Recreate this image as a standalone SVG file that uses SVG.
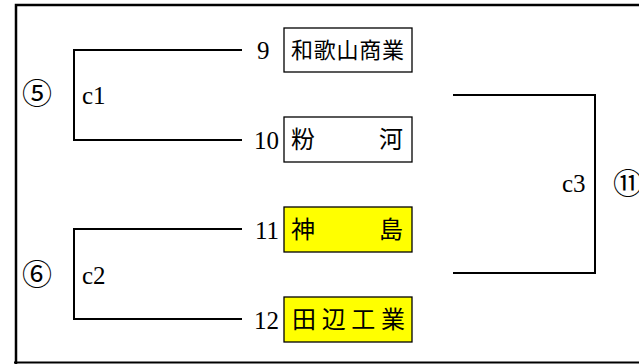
<svg xmlns="http://www.w3.org/2000/svg" width="639" height="364" viewBox="0 0 639 364">
<style>
.ln{fill:none;stroke:#000;stroke-width:2}
.box{stroke:#000;stroke-width:1.3}
.w{fill:#fff}
.y{fill:#ffff00}
.num{font-family:"Liberation Serif","Noto Sans CJK JP",serif;font-size:25px;fill:#000}
.lab{font-family:"Liberation Serif","Noto Sans CJK JP",serif;font-size:25px;fill:#000}
.cir{font-family:"Noto Sans CJK JP","DejaVu Sans",sans-serif;font-size:30px;fill:#000}
.jp{font-family:"Noto Sans CJK JP",sans-serif;font-size:22px;fill:#000}
.jb{font-size:24px}
</style>
<rect x="0" y="0" width="639" height="364" fill="#fff"/>
<path d="M16,364 V5 H645" fill="none" stroke="#000" stroke-width="2.5"/>
<path d="M14,362.5 H645" fill="none" stroke="#000" stroke-width="2"/>
<g id="connectors">
<path class="ln" d="M242,50 H74 V140 H242"/>
<path class="ln" d="M242,229 H74 V319 H242"/>
<path class="ln" d="M453,95 H595 V273 H453"/>
</g>
<g id="labels">
<text class="cir" x="37" y="104" text-anchor="middle">⑤</text>
<text class="lab" x="82" y="104">c1</text>
<text class="cir" x="37" y="285" text-anchor="middle">⑥</text>
<text class="lab" x="82" y="284">c2</text>
<text class="lab" x="562" y="192">c3</text>
<text class="cir" x="613" y="194">⑪</text>
</g>
<g id="n9">
<text class="num" x="257" y="59">9</text>
<rect class="box w" x="284" y="28" width="128" height="44"/>
<text class="jp" x="291" y="58" textLength="113" lengthAdjust="spacing">和歌山商業</text>
</g>
<g id="n10">
<text class="num" x="279" y="149" text-anchor="end">10</text>
<rect class="box w" x="284" y="117" width="128" height="45"/>
<text class="jp jb" x="291" y="148">粉</text>
<text class="jp jb" x="379" y="148">河</text>
</g>
<g id="n11">
<text class="num" x="279" y="239" text-anchor="end">11</text>
<rect class="box y" x="284" y="207" width="128" height="45"/>
<text class="jp jb" x="291" y="238">神</text>
<text class="jp jb" x="379" y="238">島</text>
</g>
<g id="n12">
<text class="num" x="279" y="329" text-anchor="end">12</text>
<rect class="box y" x="284" y="297" width="128" height="45"/>
<text class="jp jb" x="292" y="328" textLength="113" lengthAdjust="spacing">田辺工業</text>
</g>
</svg>
